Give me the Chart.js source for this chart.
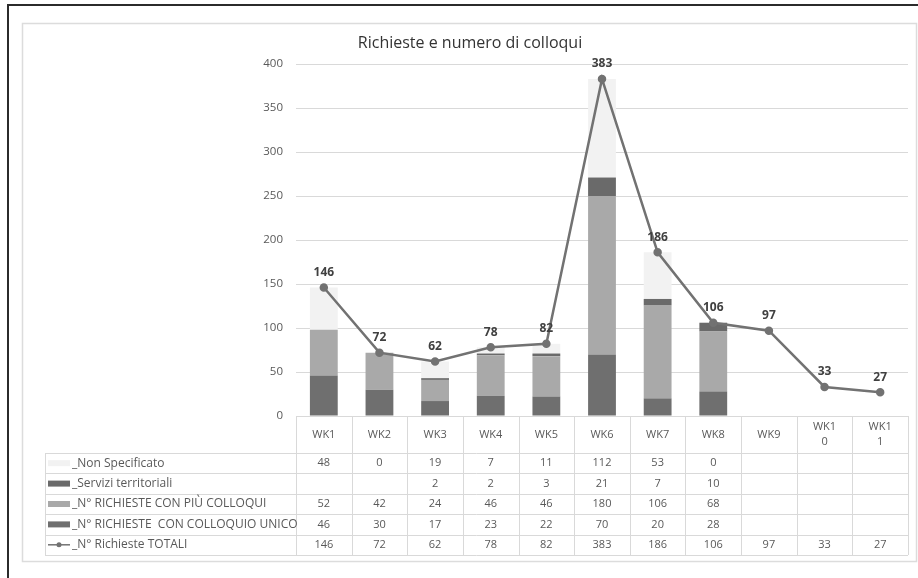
<!DOCTYPE html>
<html>
<head>
<meta charset="utf-8">
<script src="https://cdn.jsdelivr.net/npm/chart.js@4"></script>
<style>
  html, body { margin: 0; padding: 0; background: #fff; }
  #wrap { width: 918px; height: 578px; position: relative; }
</style>
</head>
<body>
<div id="wrap"><canvas id="chart"></canvas></div>
<script>
// ── Data ──────────────────────────────────────────────────────────────────────
const weekLabels = ["WK1", "WK2", "WK3", "WK4", "WK5", "WK6", "WK7", "WK8", "WK9", ["WK1", "0"], ["WK1", "1"]];

const nonSpecificato      = [48, 0, 19, 7, 11, 112, 53, 0, null, null, null];
const serviziTerritoriali = [null, null, 2, 2, 3, 21, 7, 10, null, null, null];
const piuColloqui         = [52, 42, 24, 46, 46, 180, 106, 68, null, null, null];
const colloquioUnico      = [46, 30, 17, 23, 22, 70, 20, 28, null, null, null];
const richiesteTotali     = [146, 72, 62, 78, 82, 383, 186, 106, 97, 33, 27];

const titleText = "Richieste e numero di colloqui";

// ── Look ──────────────────────────────────────────────────────────────────────
const FONT = "'Open Sans', 'DejaVu Sans', sans-serif";
const TEXT = "#595959";
const GRID = "#d9d9d9";
const COLORS = {
  nonSpec: "#f2f2f2",
  servizi: "#6a6a6a",
  piu:     "#a9a9a9",
  unico:   "#6f6f6f",
  totali:  "#727272",
};

// table geometry (below the plot)
const TABLE_LEFT    = 45;
const HEADER_BOTTOM = 453;
const ROW_H         = 20.4;

// rows of the data table, top to bottom
const tableRows = [
  { label: "_Non Specificato",                   values: nonSpecificato,      color: COLORS.nonSpec, key: "box" },
  { label: "_Servizi territoriali",              values: serviziTerritoriali, color: COLORS.servizi, key: "box" },
  { label: "_N° RICHIESTE CON PIÙ COLLOQUI",     values: piuColloqui,         color: COLORS.piu,     key: "box" },
  { label: "_N° RICHIESTE  CON COLLOQUIO UNICO", values: colloquioUnico,      color: COLORS.unico,   key: "box" },
  { label: "_N° Richieste TOTALI",               values: richiesteTotali,     color: COLORS.totali,  key: "line" },
];

Chart.defaults.font.family = FONT;

// ── Frame, title, data labels and data table ─────────────────────────────────
const decorations = {
  id: "decorations",
  beforeDraw(chart) {
    const { ctx, width, height } = chart;
    ctx.save();
    ctx.fillStyle = "#fff";
    ctx.fillRect(0, 0, width, height);
    // outer dark border
    ctx.strokeStyle = "#2b2b2b";
    ctx.lineWidth = 2;
    ctx.beginPath();
    ctx.moveTo(8, height + 2); ctx.lineTo(8, 5); ctx.lineTo(width + 2, 5);
    ctx.stroke();
    // chart frame
    ctx.strokeStyle = "#dcdcdc";
    ctx.lineWidth = 1.5;
    ctx.strokeRect(22.5, 23.5, 894, 538);
    ctx.restore();
  },
  afterDatasetsDraw(chart) {
    const { ctx } = chart;
    const meta = chart.getDatasetMeta(4);
    ctx.save();
    ctx.font = `bold 12px ${FONT}`;
    ctx.fillStyle = "#404040";
    ctx.textAlign = "center";
    ctx.textBaseline = "middle";
    meta.data.forEach((pt, i) => {
      ctx.fillText(String(richiesteTotali[i]), pt.x, pt.y - 15);
    });
    ctx.restore();
  },
  afterDraw(chart) {
    const { ctx, chartArea: area } = chart;
    const x = chart.scales.x;
    const n = weekLabels.length;
    const colW = (area.right - area.left) / n;
    const tableBottom = HEADER_BOTTOM + ROW_H * tableRows.length;

    ctx.save();
    // title
    ctx.font = `16px ${FONT}`;
    ctx.fillStyle = "#333";
    ctx.textAlign = "center";
    ctx.textBaseline = "middle";
    ctx.fillText(titleText, 470, 43);

    // grid of the table
    ctx.strokeStyle = GRID;
    ctx.lineWidth = 1;
    ctx.beginPath();
    for (let i = 0; i <= n; i++) {
      const xp = Math.round(area.left + i * colW) + 0.5;
      ctx.moveTo(xp, area.bottom); ctx.lineTo(xp, tableBottom);
    }
    ctx.moveTo(TABLE_LEFT + 0.5, HEADER_BOTTOM); ctx.lineTo(TABLE_LEFT + 0.5, tableBottom);
    for (let r = 0; r <= tableRows.length; r++) {
      const yp = Math.round(HEADER_BOTTOM + r * ROW_H) + 0.5;
      ctx.moveTo(TABLE_LEFT, yp); ctx.lineTo(area.right, yp);
    }
    ctx.stroke();

    // header: week labels
    ctx.font = `11px ${FONT}`;
    ctx.fillStyle = TEXT;
    const headerMid = (area.bottom + HEADER_BOTTOM) / 2;
    weekLabels.forEach((lab, i) => {
      const lines = Array.isArray(lab) ? lab : [lab];
      const cx = x.getPixelForValue(i);
      lines.forEach((s, k) => {
        ctx.fillText(s, cx, headerMid + (k - (lines.length - 1) / 2) * 15);
      });
    });

    // rows: legend key, label and values
    tableRows.forEach((row, r) => {
      const cy = HEADER_BOTTOM + (r + 0.5) * ROW_H;
      if (row.key === "box") {
        ctx.fillStyle = row.color;
        ctx.fillRect(48, cy - 3, 22, 6);
      } else {
        ctx.strokeStyle = row.color;
        ctx.lineWidth = 1.5;
        ctx.beginPath(); ctx.moveTo(48, cy); ctx.lineTo(70, cy); ctx.stroke();
        ctx.fillStyle = row.color;
        ctx.beginPath(); ctx.arc(59, cy, 2.5, 0, Math.PI * 2); ctx.fill();
      }
      ctx.fillStyle = TEXT;
      ctx.textAlign = "left";
      ctx.font = `12px ${FONT}`;
      ctx.fillText(row.label, 72, cy);
      ctx.textAlign = "center";
      ctx.font = `11px ${FONT}`;
      row.values.forEach((v, i) => {
        if (v == null) return;
        ctx.fillText(String(v), x.getPixelForValue(i), cy);
      });
    });
    ctx.restore();
  },
};

// ── Chart ─────────────────────────────────────────────────────────────────────
const barDefaults = { type: "bar", stack: "richieste", order: 1, categoryPercentage: 1, barPercentage: 0.5 };

new Chart(document.getElementById("chart"), {
  data: {
    labels: weekLabels,
    datasets: [
      { ...barDefaults, label: "_N° RICHIESTE  CON COLLOQUIO UNICO", data: colloquioUnico,      backgroundColor: COLORS.unico },
      { ...barDefaults, label: "_N° RICHIESTE CON PIÙ COLLOQUI",     data: piuColloqui,         backgroundColor: COLORS.piu },
      { ...barDefaults, label: "_Servizi territoriali",              data: serviziTerritoriali, backgroundColor: COLORS.servizi },
      { ...barDefaults, label: "_Non Specificato",                   data: nonSpecificato,      backgroundColor: COLORS.nonSpec },
      {
        type: "line", stack: "totali", order: 0,
        label: "_N° Richieste TOTALI", data: richiesteTotali,
        borderColor: COLORS.totali, backgroundColor: COLORS.totali,
        borderWidth: 2.5, pointRadius: 3, pointHoverRadius: 3, tension: 0,
      },
    ],
  },
  options: {
    responsive: true, maintainAspectRatio: false, animation: false,
    devicePixelRatio: 1,
    layout: { padding: { left: 250, top: 64, right: 10, bottom: 162 } },
    scales: {
      x: { stacked: true, display: false },
      y: {
        stacked: true, min: 0, max: 400,
        afterFit: s => { s.width = 46; },
        ticks: { stepSize: 50, color: TEXT, padding: 13, font: { size: 11.5 } },
        grid: { color: GRID, drawTicks: false },
        border: { display: false },
      },
    },
    plugins: { legend: { display: false }, tooltip: { enabled: false }, title: { display: false } },
  },
  plugins: [decorations],
});
</script>
</body>
</html>
